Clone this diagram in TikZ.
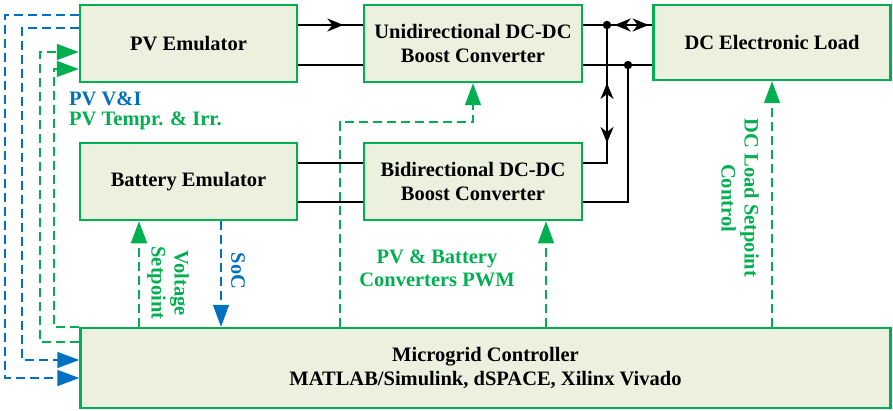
\documentclass[tikz,border=0pt]{standalone}
\usepackage{fontspec}
\setmainfont{Liberation Serif}
\usetikzlibrary{arrows.meta,decorations.markings,calc}
\definecolor{gbord}{RGB}{0,176,80}
\definecolor{gfill}{RGB}{235,241,222}
\definecolor{bblue}{RGB}{0,112,192}
\tikzset{BT/.tip={Stealth[length=16pt,width=13pt,inset=5pt]}}
\begin{document}
\begin{tikzpicture}[x=1pt,y=1pt,
  blk/.style={draw=gbord, line width=2.5pt, fill=gfill, inner sep=0pt, minimum height=77pt, align=center, font=\fontsize{20.5}{24}\selectfont\bfseries},
  pw/.style={line width=2pt, black},
  bigtip/.style={-{Triangle[length=22pt,width=16pt]}},
  gdash/.style={gbord, line width=1.6pt, dash pattern=on 9pt off 5pt, bigtip},
  bdash/.style={bblue, line width=1.6pt, dash pattern=on 9pt off 5pt, bigtip},
  lbl/.style={font=\fontsize{20.5}{23}\selectfont\bfseries, align=center, inner sep=0pt}
]
\useasboundingbox (0,0) rectangle (893,410);

\node[blk, minimum width=217pt] (pv) at (188.5,366.5) {PV Emulator};
\node[blk, minimum width=218pt] (uni) at (473,366.5) {Unidirectional DC-DC\\Boost Converter};
\node[blk, minimum width=237pt, minimum height=75pt] (load) at (772,367.5) {DC Electronic Load};
\node[blk, minimum width=217pt] (bat) at (188.5,228.5) {Battery Emulator};
\node[blk, minimum width=218pt] (bi) at (473,228.5) {Bidirectional DC-DC\\Boost Converter};
\node[blk, minimum width=810pt, minimum height=80pt] (mc) at (485.5,42) {Microgrid Controller\\MATLAB/Simulink, dSPACE, Xilinx Vivado};

% power lines
\draw[pw, postaction={decorate}, decoration={markings, mark=at position 0.7 with {\arrow{BT}}}]
  ([yshift=18.5pt]pv.east) -- ([yshift=18.5pt]uni.west);
\draw[pw] ([yshift=-21.5pt]pv.east) -- ([yshift=-21.5pt]uni.west);
\coordinate (d1) at (607,385);
\coordinate (d2) at (628,345);
\coordinate (b1) at ([yshift=18.5pt]bi.east);
\coordinate (b2) at ([yshift=-20.5pt]bi.east);
\draw[pw] ([yshift=18.5pt]uni.east) -- (d1);
\draw[pw, postaction={decorate}, decoration={markings,
   mark=at position 0.17 with {\arrowreversed{BT}},
   mark=at position 0.92 with {\arrow{BT}}}]
  (d1) -- (d1 -| load.west);
\draw[pw] ([yshift=-21.5pt]uni.east) -- (d2) -- (d2 -| load.west);
\draw[pw, postaction={decorate}, decoration={markings,
   mark=at position 58pt with {\arrowreversed{BT}},
   mark=at position 118pt with {\arrow{BT}}}]
  (d1) |- (b1);
\draw[pw] (d2) |- (b2);
\draw[pw] ([yshift=18.5pt]bat.east) -- ([yshift=18.5pt]bi.west);
\draw[pw] ([yshift=-20.5pt]bat.east) -- ([yshift=-20.5pt]bi.west);
\fill (d1) circle (4.2pt);
\fill (d2) circle (4.2pt);

% control signals
\coordinate (pwm) at (340,288);
\draw[gdash] (mc.north -| pwm) -- (pwm) -| (uni.south);
\coordinate (bs) at ([xshift=73pt]bi.south);
\draw[gdash] (bs |- mc.north) -- (bs);
\draw[gdash] (load.south |- mc.north) -- (load.south);
\coordinate (vs) at ([xshift=-49.5pt]bat.south);
\draw[gdash] (vs |- mc.north) -- (vs);
\coordinate (so) at ([xshift=32.5pt]bat.south);
\draw[bdash] (so) -- (so |- mc.north);

% left feedback lines
\coordinate (bo) at (5,32);
\draw[bdash] ([yshift=28.5pt]pv.west) -| (bo) -- (bo -| mc.west);
\coordinate (bin) at (22,50);
\draw[bdash] ([yshift=15.5pt]pv.west) -| (bin) -- (bin -| mc.west);
\coordinate (go) at (40,358);
\draw[gdash] ([yshift=26pt]mc.west) -| (go) -- (go -| pv.west);
\coordinate (gi) at (54,341);
\draw[gdash] (mc.north west) -| (gi) -- (gi -| pv.west);

% labels
\node[lbl, text=bblue, anchor=west] (t1) at (69,311) {PV V\&I};
\node[lbl, text=gbord, anchor=west] (t2) at (69,289) {PV Tempr. \& Irr.};
\node[lbl, text=gbord, rotate=-90] (t3) at (168,127) {Voltage\\Setpoint};
\node[lbl, text=bblue, rotate=-90] (t4) at (238,139) {SoC};
\node[lbl, text=gbord] (t5) at (437,142) {PV \& Battery\\Converters PWM};
\node[lbl, text=gbord, rotate=-90] (t6) at (740,212) {DC Load Setpoint\\Control};
\end{tikzpicture}
\end{document}
